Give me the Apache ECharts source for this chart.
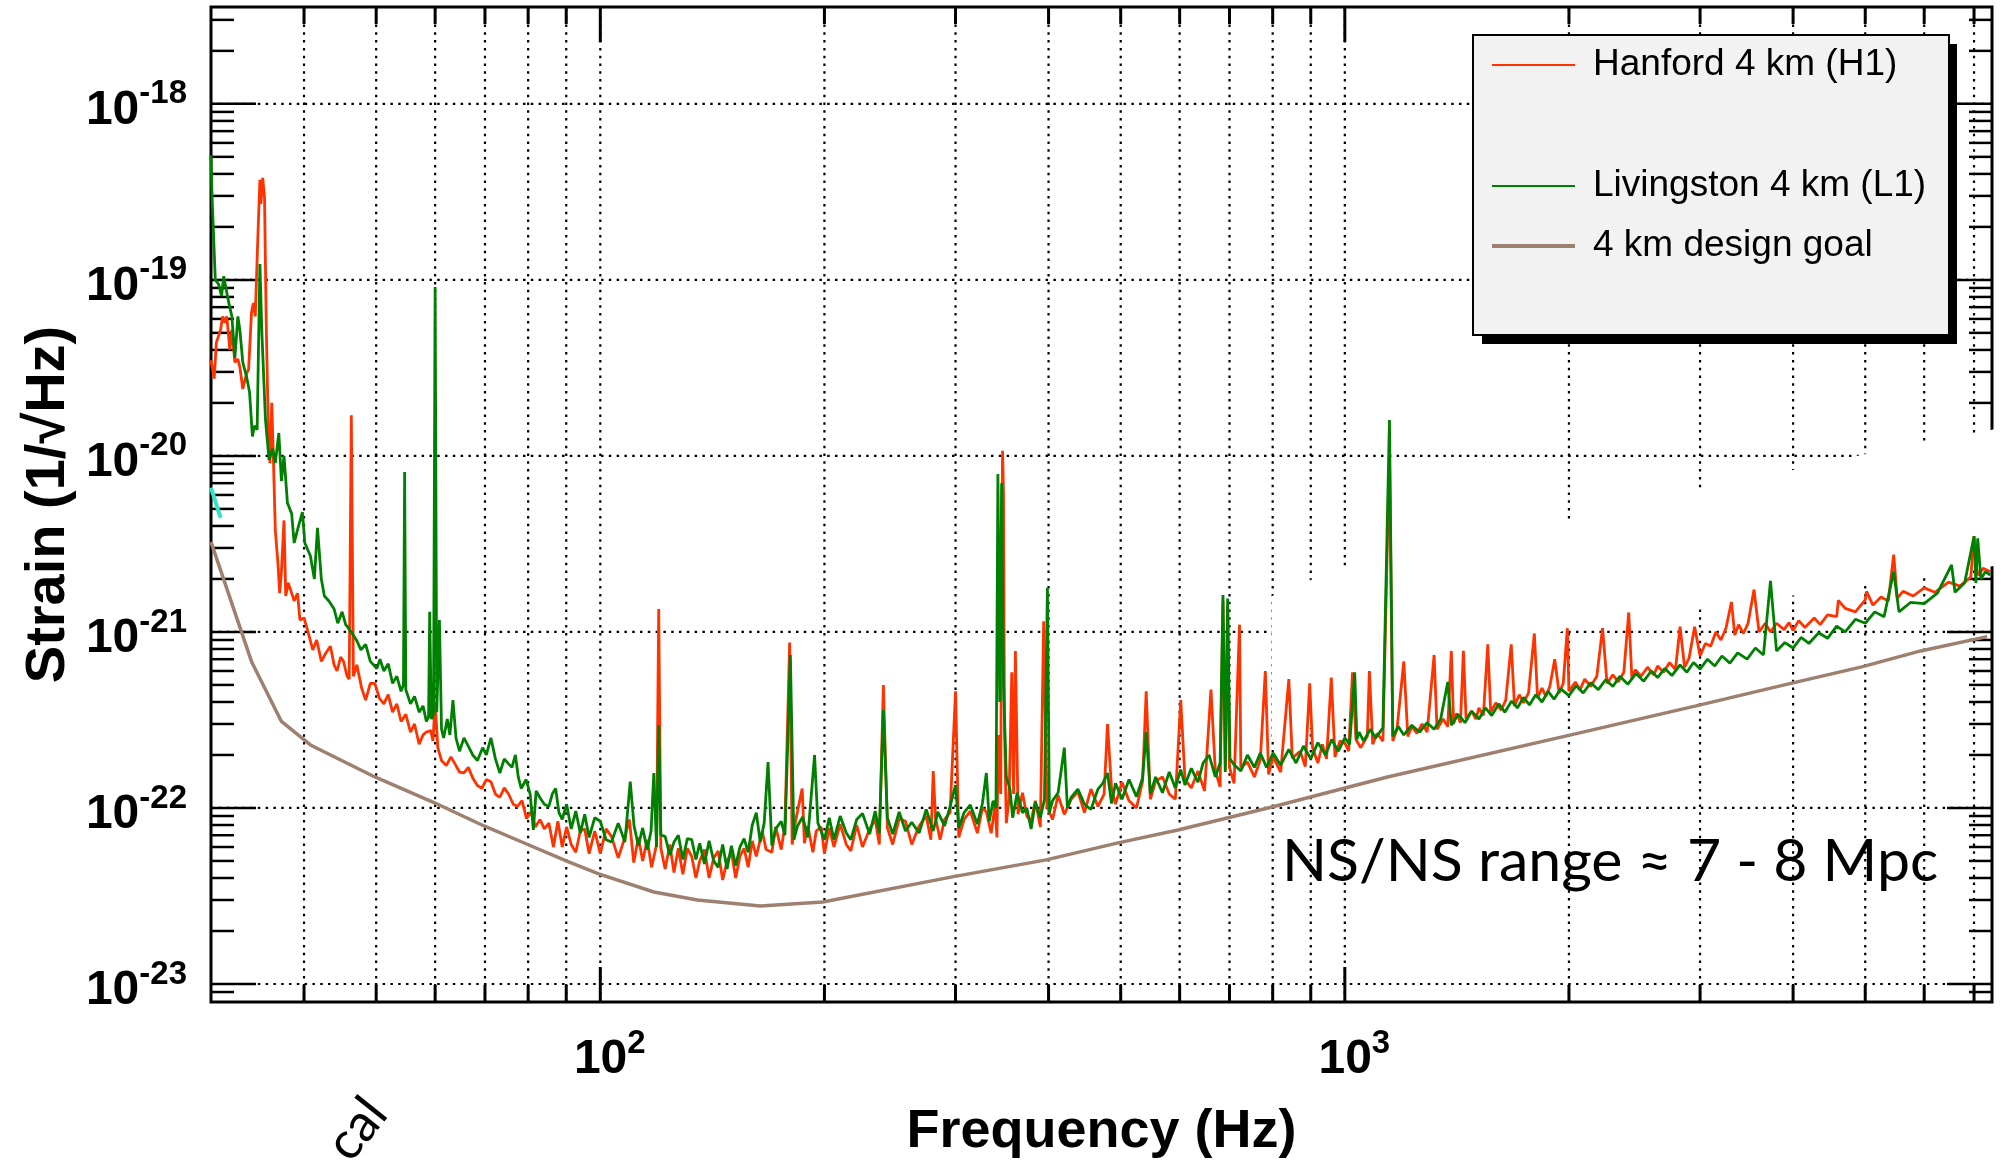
<!DOCTYPE html>
<html>
<head>
<meta charset="utf-8">
<script src="https://cdn.jsdelivr.net/npm/echarts@6/dist/echarts.min.js"></script>
<style>
  html, body { margin: 0; padding: 0; background: #fff; }
  #chart { width: 2001px; height: 1168px; }
</style>
</head>
<body>
<div id="chart"></div>
<script>
// strain is plotted in units of 1e-24 (echarts log axis rounds tiny ticks to 0)
const STRAIN_UNIT = 1e-24;
const UNIT_EXP = -24;

// axis extent
const xMin = 30, xMax = 7400;
const yMin = 7.9e-24, yMax = 3.55e-18;

// gridline / tick positions
const xGridValues = [40, 50, 60, 70, 80, 90, 100, 200, 300, 400, 500, 600, 700, 800, 900, 1000, 2000, 3000, 4000, 5000, 6000, 7000];
const yDecades = [1e-23, 1e-22, 1e-21, 1e-20, 1e-19, 1e-18];
const yMinor = [9e-24,
  2e-23, 3e-23, 4e-23, 5e-23, 6e-23, 7e-23, 8e-23, 9e-23,
  2e-22, 3e-22, 4e-22, 5e-22, 6e-22, 7e-22, 8e-22, 9e-22,
  2e-21, 3e-21, 4e-21, 5e-21, 6e-21, 7e-21, 8e-21, 9e-21,
  2e-20, 3e-20, 4e-20, 5e-20, 6e-20, 7e-20, 8e-20, 9e-20,
  2e-19, 3e-19, 4e-19, 5e-19, 6e-19, 7e-19, 8e-19, 9e-19,
  2e-18, 3e-18];

// Hanford 4 km (H1) [Hz, strain]
const hanford = [
  [30.0,3.5e-20],[30.3,2.75e-20],[30.5,4.4e-20],[30.9,5.2e-20],[31.1,6.2e-20],[31.3,5.7e-20],[31.5,6.2e-20],[31.8,4.0e-20],
  [32.0,5.2e-20],[32.3,3.4e-20],[32.6,3.55e-20],[32.8,3.2e-20],[33.1,2.4e-20],[33.5,2.95e-20],[33.7,3.1e-20],[34.0,6.5e-20],
  [34.2,7.4e-20],[34.4,6.2e-20],[34.7,1.9e-19],[34.9,3.7e-19],[35.0,2.7e-19],[35.2,3.8e-19],[35.4,2.95e-19],[35.6,5.2e-20],
  [35.8,1.6e-20],[36.0,9.1e-21],[36.2,2.0e-20],[36.4,9.1e-21],[36.6,3.8e-21],[36.9,2.45e-21],[37.1,1.66e-21],[37.3,2.2e-21],
  [37.6,4.3e-21],[37.8,1.6e-21],[38.1,1.9e-21],[38.5,1.66e-21],[38.8,1.5e-21],[39.2,1.66e-21],[39.5,1.17e-21],[40.0,1.2e-21],
  [40.5,1.0e-21],[41.1,7.9e-22],[41.6,9.0e-22],[42.2,6.8e-22],[42.8,7.6e-22],[43.4,8.3e-22],[43.9,6.5e-22],[44.3,6.0e-22],
  [44.8,7.2e-22],[45.2,6.8e-22],[45.7,5.6e-22],[46.0,5.4e-22],[46.3,1.7e-20],[46.6,5.6e-22],[47.1,6.5e-22],[47.8,4.8e-22],
  [48.4,4.1e-22],[49.1,5.1e-22],[49.8,5.1e-22],[50.5,4.2e-22],[51.2,3.9e-22],[51.9,4.4e-22],[52.6,3.5e-22],[53.3,3.9e-22],
  [54.0,3.1e-22],[54.8,3.4e-22],[55.6,2.7e-22],[56.3,3.0e-22],[57.1,2.3e-22],[57.8,2.6e-22],[58.4,2.7e-22],[59.2,2.75e-22],
  [59.6,2.4e-22],[60.0,4.0e-22],[60.5,2.2e-22],[61.2,1.86e-22],[62.1,1.74e-22],[63.0,1.95e-22],[63.8,1.78e-22],[64.7,1.6e-22],
  [65.6,1.58e-22],[66.5,1.7e-22],[67.4,1.48e-22],[68.3,1.35e-22],[69.3,1.29e-22],[70.3,1.45e-22],[71.3,1.41e-22],[72.3,1.2e-22],
  [73.3,1.15e-22],[74.3,1.3e-22],[75.3,1.2e-22],[76.4,1.05e-22],[77.4,1.02e-22],[78.5,1.1e-22],[79.6,8.7e-23],[80.7,9.5e-23],
  [81.8,7.8e-23],[83.0,8.6e-23],[84.1,7.6e-23],[85.3,8.2e-23],
  [86.5,6.0e-23],[87.7,8.4e-23],[88.9,6.0e-23],[90.1,7.8e-23],[91.4,6.2e-23],[92.7,5.6e-23],[94.0,7.4e-23],[95.3,7.6e-23],
  [96.6,5.5e-23],[98.3,7.4e-23],[100,5.5e-23],[101.8,7.6e-23],[103.5,6.9e-23],[105.7,5.2e-23],[107.9,6.8e-23],[109.4,8.6e-23],
  [110.9,4.9e-23],[112.5,6.8e-23],[114.0,5.0e-23],[115.6,6.6e-23],[117.2,4.6e-23],[119.0,6.2e-23],[119.8,1.35e-21],[120.6,5.9e-23],
  [122.2,4.5e-23],[124,6.2e-23],[125.6,4.3e-23],[127.3,5.9e-23],[129.1,4.2e-23],[130.9,5.9e-23],[132.7,5.3e-23],[134.4,4.0e-23],
  [136,5.0e-23],[138,5.8e-23],[140,4.0e-23],[142,5.2e-23],[144,5.7e-23],[146,3.9e-23],[148,5.0e-23],[150,5.6e-23],
  [152,4.0e-23],[154,5.3e-23],[156,5.9e-23],[158,4.6e-23],[160,6.5e-23],[162,5.3e-23],[165,7.4e-23],[167,5.8e-23],
  [170,5.6e-23],[172,7.8e-23],[175,5.8e-23],[177,8.0e-23],[179.6,8.7e-22],[181,6.2e-23],[183,8.5e-23],[186.7,1.29e-22],
  [188,6.3e-23],[190,7.9e-23],[193,5.6e-23],[195,7.4e-23],[198,7.8e-23],[200,5.5e-23],[203,7.7e-23],[206,6.0e-23],
  [210,8.1e-23],[214,6.2e-23],[217,5.7e-23],[221,8.0e-23],[225,6.0e-23],[230,7.6e-23],[234,8.6e-23],[237,6.2e-23],
  [240,5.0e-22],[243,7.7e-23],[247,6.2e-23],[252,8.7e-23],[257,8.4e-23],[262,6.2e-23],[268,7.9e-23],[274,9.0e-23],
  [278,6.6e-23],[280,1.62e-22],[282,8.8e-23],[286,6.6e-23],[290,8.6e-23],[295,9.4e-23],[300,4.6e-22],[303,6.8e-23],
  [308,8.6e-23],[314,9.6e-23],[321,7.2e-23],[326,1.0e-22],[330,9.5e-23],[335,7.2e-23],[339,1.04e-22],[341,6.8e-23],
  [342.5,2.6e-22],[345,1.2e-22],[346,3.0e-21],[347,1.07e-20],[348,6.0e-21],[349,3.0e-22],
  [351,8.2e-23],[354,1.12e-22],[357,5.9e-22],[359,1.2e-22],[361,7.8e-22],[364,9.2e-23],[369,1.22e-22],[374,9.0e-23],
  [379,8.4e-23],[384,1.1e-22],[390,7.8e-23],[394,1.15e-21],[398,1.02e-22],[405,8.6e-23],[412,1.18e-22],[420,9.2e-23],
  [429,1.12e-22],[438,1.24e-22],[447,9.4e-23],[456,1.28e-22],[466,1.02e-22],[475,1.2e-22],[480,3.0e-22],[486,1.3e-22],
  [492,1.05e-22],[502,1.4e-22],[513,1.1e-22],[525,1.0e-22],[535,1.42e-22],[541,4.6e-22],[548,1.12e-22],[557,1.42e-22],
  [569,1.5e-22],[581,1.2e-22],[592,1.12e-22],[602,4.1e-22],[610,1.45e-22],[622,1.3e-22],[635,1.62e-22],[648,1.25e-22],
  [661,4.7e-22],[670,1.62e-22],[680,1.32e-22],[686,1.5e-21],[691,1.65e-22],[696,1.4e-21],[700,1.7e-22],[710,1.38e-22],
  [722,1.1e-21],[725,1.7e-22],[740,1.82e-22],[756,1.5e-22],[770,1.88e-22],[782,6.0e-22],[790,1.55e-22],[801,1.95e-22],
  [820,1.6e-22],[841,5.4e-22],[850,1.92e-22],[871,2.1e-22],[885,1.72e-22],[897,5.1e-22],[905,2.2e-22],[920,1.8e-22],
  [933,2.3e-22],[945,1.9e-22],[959,5.5e-22],[970,1.95e-22],[985,2.4e-22],
  [1000,2.34e-22],[1012,2.1e-22],[1024,5.9e-22],[1035,2.45e-22],[1050,2.2e-22],[1072,2.55e-22],[1079,6.0e-22],[1090,2.3e-22],
  [1105,2.65e-22],[1125,2.4e-22],[1148,1.07e-20],[1160,2.4e-22],[1175,2.8e-22],[1200,6.8e-22],[1215,2.55e-22],[1230,2.9e-22],
  [1250,2.65e-22],[1270,3.0e-22],[1290,2.7e-22],[1318,7.4e-22],[1330,2.8e-22],[1355,3.2e-22],[1375,2.9e-22],[1390,7.8e-22],
  [1400,3.0e-22],[1413,3.45e-22],[1430,3.05e-22],[1443,7.8e-22],[1455,3.2e-22],[1480,3.55e-22],[1500,3.2e-22],[1514,3.7e-22],
  [1535,3.35e-22],[1556,8.5e-22],[1570,3.5e-22],[1595,3.95e-22],[1622,3.6e-22],[1645,4.1e-22],[1673,8.5e-22],[1690,3.8e-22],
  [1715,4.4e-22],[1738,3.95e-22],[1765,4.5e-22],[1797,9.8e-22],[1815,4.2e-22],[1840,4.8e-22],[1862,4.3e-22],[1885,4.9e-22],
  [1914,7.0e-22],[1940,4.5e-22],[1965,5.1e-22],[1990,1.05e-21],[2000,4.6e-22],[2040,5.2e-22],[2070,4.7e-22],[2100,5.4e-22],
  [2139,4.9e-22],[2180,5.6e-22],[2219,1.05e-21],[2250,5.1e-22],[2291,5.7e-22],[2330,5.2e-22],[2370,5.9e-22],[2406,1.29e-21],
  [2430,5.4e-22],[2455,6.1e-22],[2500,5.6e-22],[2550,6.3e-22],[2600,5.7e-22],[2631,6.4e-22],[2680,5.9e-22],[2730,6.7e-22],
  [2780,6.1e-22],[2820,1.07e-21],[2860,6.3e-22],[2900,7.1e-22],[2950,1.07e-21],[3000,7.3e-22],[3050,8.6e-22],[3100,8.3e-22],
  [3150,1.0e-21],[3200,9.0e-22],[3250,1.05e-21],[3306,1.48e-21],[3340,9.6e-22],[3380,1.1e-21],[3430,9.8e-22],[3480,1.12e-21],
  [3545,1.74e-21],[3600,1.0e-21],[3670,1.12e-21],[3730,1.0e-21],[3800,1.12e-21],[3890,1.03e-21],[3950,1.13e-21],[4000,1.02e-21],
  [4070,1.16e-21],[4150,1.06e-21],[4270,1.2e-21],[4350,1.1e-21],[4450,1.25e-21],[4577,1.22e-21],[4601,1.51e-21],[4700,1.36e-21],
  [4850,1.3e-21],[5000,1.52e-21],[5020,1.7e-21],[5120,1.42e-21],[5250,1.58e-21],[5370,1.5e-21],[5460,2.75e-21],[5520,1.55e-21],
  [5620,1.7e-21],[5800,1.6e-21],[6000,1.78e-21],[6200,1.68e-21],[6470,1.92e-21],[6700,1.82e-21],[6930,2.05e-21],[7000,3.5e-21],
  [7050,2.3e-21],[7100,2.1e-21],[7200,2.3e-21],[7360,2.2e-21]
];

// Livingston 4 km (L1) [Hz, strain]
const livingston = [
  [30.0,5.1e-19],[30.1,2.95e-19],[30.4,1.0e-19],[30.7,9.5e-20],[31.0,8.1e-20],[31.2,1.05e-19],[31.3,1.07e-19],[31.7,7.4e-20],
  [32.0,6.2e-20],[32.3,3.6e-20],[32.6,6.2e-20],[32.8,5.2e-20],[33.1,3.4e-20],[33.5,2.8e-20],[33.8,2.3e-20],[34.1,1.29e-20],
  [34.3,1.48e-20],[34.6,1.41e-20],[34.9,1.23e-19],[35.1,5.2e-20],[35.5,1.62e-20],[35.9,9.5e-21],[36.3,1.1e-20],[36.6,9.1e-21],
  [37.0,1.35e-20],[37.3,7.2e-21],[37.6,1.0e-20],[38.0,5.4e-21],[38.5,4.7e-21],[38.8,3.2e-21],[39.2,3.8e-21],[39.8,4.8e-21],
  [40.1,3.2e-21],[40.8,2.7e-21],[41.3,2.0e-21],[41.7,3.9e-21],[42.2,2.0e-21],[42.6,1.6e-21],[43.2,1.5e-21],[43.9,1.35e-21],
  [44.4,1.12e-21],[45.0,1.3e-21],[45.5,1.1e-21],[46.3,1.0e-21],[47.1,8.9e-22],[47.7,7.9e-22],[48.4,8.5e-22],[49.1,6.8e-22],
  [50.1,6.2e-22],[50.6,7.0e-22],[51.2,6.0e-22],[51.9,6.6e-22],[52.6,5.1e-22],[53.3,5.6e-22],[54.0,4.6e-22],[54.4,5.0e-22],
  [54.6,8.1e-21],[54.8,4.7e-22],[55.6,3.9e-22],[56.3,4.3e-22],[57.1,3.5e-22],[57.8,3.8e-22],[58.4,3.1e-22],[58.8,3.3e-22],
  [59.0,1.3e-21],[59.3,3.2e-22],[59.7,3.4e-22],[60.0,9.1e-20],[60.3,3.5e-22],[60.8,1.17e-21],[61.2,2.8e-22],[61.6,2.5e-22],
  [62.3,3.2e-22],[62.8,2.6e-22],[63.4,4.1e-22],[64.0,2.5e-22],[64.7,2.1e-22],[65.6,2.5e-22],[66.5,2.24e-22],[67.4,2.0e-22],
  [68.4,1.86e-22],[69.5,2.2e-22],[70.3,2.0e-22],[71.3,2.5e-22],[72.3,1.9e-22],[73.3,1.58e-22],[74.3,1.9e-22],[75.3,1.78e-22],
  [76.1,1.7e-22],[76.9,2.0e-22],[77.6,1.5e-22],[78.3,1.29e-22],[79.5,1.45e-22],[80.5,1.2e-22],[81.3,7.5e-23],[82.0,1.25e-22],
  [82.9,1.15e-22],[84.1,1.05e-22],[85.3,1.02e-22],
  [86.2,1.2e-22],[87.1,1.29e-22],[88.0,9.4e-23],[88.9,8.6e-23],[90.1,1.05e-22],[91.4,7.6e-23],[92.7,9.6e-23],[94.0,7.2e-23],
  [95.3,9.2e-23],[96.6,6.8e-23],[98.3,8.8e-23],[100,8.4e-23],[101.8,6.6e-23],[103.5,6.4e-23],[105.7,8.2e-23],[107.9,6.4e-23],
  [109.7,1.41e-22],[111,7.9e-23],[112.5,6.1e-23],[114,7.7e-23],[115.6,5.8e-23],[117,7.4e-23],[118,1.58e-22],[119,6.0e-23],
  [119.8,2.95e-22],[120.6,7.0e-23],[122.2,6.9e-23],[124,5.4e-23],[125.6,6.4e-23],[127.3,7.0e-23],[129.1,5.1e-23],[130.9,6.7e-23],
  [132.7,6.6e-23],[134.4,5.1e-23],[136,6.3e-23],[138,4.8e-23],[140,6.5e-23],[142,5.0e-23],[144,4.6e-23],[146,6.2e-23],
  [148,4.5e-23],[150,6.1e-23],[152,4.7e-23],[154,6.0e-23],[156,6.7e-23],[158,5.6e-23],[160,8.0e-23],[162,9.4e-23],
  [164,6.4e-23],[166,8.2e-23],[168,1.82e-22],[170,6.1e-23],[172,7.6e-23],[175,8.4e-23],[177,7.0e-23],[180,7.4e-22],
  [182,6.6e-23],[184,7.9e-23],[187,8.9e-23],[190,6.8e-23],[194,2.0e-22],[196,8.2e-23],[200,6.6e-23],[203,8.8e-23],
  [206,6.6e-23],[210,9.0e-23],[214,7.2e-23],[217,6.6e-23],[221,8.6e-23],[225,9.3e-23],[230,7.1e-23],[234,9.6e-23],
  [237,7.2e-23],[240,3.6e-22],[243,8.8e-23],[247,7.1e-23],[252,9.5e-23],[257,7.4e-23],[262,8.3e-23],[268,7.2e-23],
  [274,9.8e-23],[280,7.4e-23],[284,9.5e-23],[290,7.9e-23],[295,1.02e-22],[300,1.35e-22],[303,7.7e-23],[308,9.4e-23],
  [314,1.04e-22],[321,8.1e-23],[326,1.06e-22],[330,1.58e-22],[333,8.4e-23],[337,1.1e-22],[340,1.0e-22],
  [342,7.9e-21],[344,4.0e-22],[346,7.0e-21],[348,5.0e-22],
  [351,1.51e-22],[355,1.28e-22],[358,8.8e-23],[363,1.22e-22],[369,9.4e-23],[374,1.0e-22],[379,7.6e-23],[384,1.08e-22],
  [390,8.8e-23],[395,1.12e-22],[398.6,1.78e-21],[401,9.4e-23],[405,1.1e-22],[412,1.22e-22],[420,2.2e-22],[424,1.0e-22],
  [429,1.15e-22],[438,1.28e-22],[447,1.05e-22],[456,9.8e-23],[466,1.28e-22],[473,1.38e-22],[480,1.58e-22],[486,1.06e-22],
  [492,1.38e-22],[502,1.12e-22],[513,1.45e-22],[525,1.16e-22],[535,1.48e-22],[541,2.7e-22],[548,1.2e-22],[557,1.5e-22],
  [569,1.22e-22],[581,1.6e-22],[592,1.3e-22],[602,1.65e-22],[610,1.35e-22],[622,1.68e-22],[635,1.4e-22],[645,1.8e-22],
  [657,2.0e-22],[670,1.5e-22],[680,1.8e-22],[686,1.62e-21],[691,1.6e-22],[696,1.55e-21],[701,1.9e-22],[710,1.76e-22],
  [725,1.62e-22],[740,2.0e-22],[756,1.7e-22],[770,2.05e-22],[785,1.7e-22],[801,2.05e-22],[820,1.75e-22],[841,2.15e-22],
  [860,1.8e-22],[880,2.25e-22],[900,1.9e-22],[920,2.35e-22],[942,2.0e-22],[960,2.45e-22],[980,2.1e-22],
  [1000,2.5e-22],[1015,2.3e-22],[1031,5.9e-22],[1038,2.45e-22],[1045,2.7e-22],[1060,2.4e-22],[1082,2.8e-22],[1100,2.5e-22],
  [1125,2.85e-22],[1148,1.6e-20],[1160,2.55e-22],[1180,2.9e-22],[1200,2.6e-22],[1230,2.95e-22],[1260,2.7e-22],[1290,3.05e-22],
  [1318,2.8e-22],[1345,3.2e-22],[1375,5.2e-22],[1390,2.95e-22],[1420,3.4e-22],[1450,3.05e-22],[1480,3.55e-22],[1514,3.2e-22],
  [1545,3.7e-22],[1575,3.35e-22],[1610,3.9e-22],[1640,3.5e-22],[1675,4.05e-22],[1705,3.7e-22],[1738,4.25e-22],[1770,3.85e-22],
  [1805,4.4e-22],[1840,4.0e-22],[1875,4.6e-22],[1910,4.15e-22],[1950,4.75e-22],[2000,4.35e-22],[2045,4.95e-22],[2090,4.5e-22],
  [2140,5.15e-22],[2190,4.7e-22],[2240,5.35e-22],[2291,4.9e-22],[2340,5.6e-22],[2400,5.05e-22],[2460,5.8e-22],[2520,5.25e-22],
  [2580,6.0e-22],[2631,5.5e-22],[2690,6.2e-22],[2750,5.65e-22],[2820,6.5e-22],[2880,5.9e-22],[2940,6.7e-22],[3000,6.15e-22],
  [3070,7.0e-22],[3140,6.4e-22],[3210,7.3e-22],[3290,6.65e-22],[3370,7.6e-22],[3470,7.0e-22],[3560,8.1e-22],[3650,7.4e-22],
  [3730,1.95e-21],[3800,7.8e-22],[3900,8.7e-22],[4000,8.1e-22],[4100,9.3e-22],[4200,8.6e-22],[4330,9.9e-22],[4450,9.2e-22],
  [4577,1.08e-21],[4700,1.0e-21],[4850,1.18e-21],[5000,1.12e-21],[5150,1.3e-21],[5300,1.22e-21],[5460,2.2e-21],[5550,1.3e-21],
  [5750,1.47e-21],[6000,1.45e-21],[6250,1.66e-21],[6530,2.4e-21],[6600,1.68e-21],[6800,1.9e-21],[7000,3.5e-21],[7040,1.9e-21],
  [7080,3.4e-21],[7150,2.0e-21],[7250,2.2e-21],[7360,2.1e-21]
];

// 4 km design goal
const designGoal = [
  [30,3.25e-21],[34.0,6.8e-22],[37.3,3.1e-22],[40.8,2.28e-22],[49.8,1.5e-22],[59.9,1.07e-22],[69.8,7.9e-23],[79.6,6.24e-23],
  [90,5.0e-23],[99.5,4.22e-23],[118,3.33e-23],[135,3.0e-23],[164,2.77e-23],[199,2.92e-23],[297,4.06e-23],[397,5.07e-23],
  [496,6.33e-23],[597,7.5e-23],[796,1.01e-22],[1141,1.5e-22],[1979,2.56e-22],[2963,3.8e-22],[3946,5.07e-22],[4946,6.33e-22],
  [5935,7.8e-22],[7290,9.4e-22]
];

// short cyan fragment at the left edge
const calTrace = [[30,6.6e-21],[30.9,4.44e-21]];

const FONT = 'Liberation Sans, Arial, Helvetica, sans-serif';

// convert [Hz, strain] to plotted units
function toPlot(arr) {
  return arr.map(p => [p[0], p[1] / STRAIN_UNIT]);
}

function isDecade(v) {
  const l = Math.log10(v);
  return Math.abs(l - Math.round(l)) < 1e-6;
}

const pyMin = yMin / STRAIN_UNIT, pyMax = yMax / STRAIN_UNIT;

function renderXGrid(params, api) {
  const v = api.value(0);
  const b = api.coord([v, pyMin]);
  const t = api.coord([v, pyMax]);
  const len = isDecade(v) ? 35 : 17;
  return {
    type: 'group',
    children: [
      {type: 'line', shape: {x1: b[0], y1: b[1], x2: t[0], y2: t[1]},
        style: {stroke: '#000', lineWidth: 2.2, lineDash: [2.5, 5.3]}},
      {type: 'line', shape: {x1: b[0], y1: b[1], x2: b[0], y2: b[1] - len},
        style: {stroke: '#000', lineWidth: 3}},
      {type: 'line', shape: {x1: t[0], y1: t[1], x2: t[0], y2: t[1] + len},
        style: {stroke: '#000', lineWidth: 3}}
    ]
  };
}

function renderYGrid(params, api) {
  const v = api.value(1);
  const l = api.coord([xMin, v]);
  const r = api.coord([xMax, v]);
  const major = isDecade(v);
  const len = major ? 45 : 23;
  const kids = [
    {type: 'line', shape: {x1: l[0], y1: l[1], x2: l[0] + len, y2: l[1]},
      style: {stroke: '#000', lineWidth: 2.5}},
    {type: 'line', shape: {x1: r[0], y1: r[1], x2: r[0] - len, y2: r[1]},
      style: {stroke: '#000', lineWidth: 2.5}}
  ];
  if (major) {
    kids.unshift({type: 'line', shape: {x1: l[0], y1: l[1], x2: r[0], y2: r[1]},
      style: {stroke: '#000', lineWidth: 2.2, lineDash: [2.5, 5.3]}});
  }
  return {type: 'group', children: kids};
}

const labelRich = {
  sp: {width: 19},
  b: {fontFamily: FONT, fontWeight: 'bold', fontSize: 48, color: '#000', verticalAlign: 'bottom', lineHeight: 50},
  s: {fontFamily: FONT, fontWeight: 'bold', fontSize: 33, color: '#000', verticalAlign: 'bottom', lineHeight: 32, padding: [0, 0, 24, 0]}
};

const chart = echarts.init(document.getElementById('chart'));

const option = {
  animation: false,
  backgroundColor: '#fff',
  grid: {
    left: 211, right: 9, top: 7, bottom: 166,
    containLabel: false, outerBoundsMode: 'none',
    show: true, borderColor: '#000', borderWidth: 3, backgroundColor: 'transparent'
  },
  xAxis: {
    type: 'log', logBase: 10, min: xMin, max: xMax,
    name: 'Frequency (Hz)', nameLocation: 'middle', nameGap: 103, nameMoveOverlap: false,
    nameTextStyle: {fontFamily: FONT, fontWeight: 'bold', fontSize: 54, color: '#000'},
    axisLine: {show: false}, axisTick: {show: false}, splitLine: {show: false},
    axisLabel: {
      margin: 32,
      formatter: v => isDecade(v) ? '{sp|}{b|10}{s|' + Math.round(Math.log10(v)) + '}' : '',
      rich: labelRich
    }
  },
  yAxis: {
    type: 'log', logBase: 10, min: pyMin, max: pyMax,
    name: 'Strain (1/\u221AHz)', nameLocation: 'middle', nameGap: 134, nameRotate: 90, nameMoveOverlap: false,
    nameTextStyle: {fontFamily: FONT, fontWeight: 'bold', fontSize: 56, color: '#000'},
    axisLine: {show: false}, axisTick: {show: false}, splitLine: {show: false},
    axisLabel: {
      margin: 24, padding: [12, 0, 0, 0],
      formatter: v => isDecade(v) ? '{b|10}{s|' + (Math.round(Math.log10(v)) + UNIT_EXP) + '}' : '',
      rich: labelRich
    }
  },
  series: [
    {
      type: 'custom', name: 'xgrid', z: 1, silent: true,
      renderItem: renderXGrid, encode: {x: 0, y: 1},
      data: xGridValues.map(v => [v, pyMin])
    },
    {
      type: 'custom', name: 'ygrid', z: 1, silent: true,
      renderItem: renderYGrid, encode: {x: 0, y: 1},
      data: toPlot(yDecades.concat(yMinor).map(v => [xMin, v]))
    },
    {
      type: 'line', name: 'Hanford 4 km (H1)', data: toPlot(hanford), z: 3,
      symbol: 'none', lineStyle: {color: '#ff3300', width: 2.8}
    },
    {
      type: 'line', name: 'Livingston 4 km (L1)', data: toPlot(livingston), z: 4,
      symbol: 'none', lineStyle: {color: '#008000', width: 2.8}
    },
    {
      type: 'line', name: '4 km design goal', data: toPlot(designGoal), z: 5,
      symbol: 'none', lineStyle: {color: '#9e8070', width: 3.5}
    },
    {
      type: 'line', name: 'cal', data: toPlot(calTrace), z: 5,
      symbol: 'none', lineStyle: {color: '#33e3c8', width: 4}
    }
  ],
  graphic: [
    // white cover above the high-frequency traces (hides gridlines there, as in the original slide)
    {type: 'polygon', z: 2, silent: true,
      shape: {points: [[1272, 596], [1345, 566], [1571, 519], [1793, 470], [1875, 452], [2001, 428],
        [2001, 565], [1571, 628], [1539, 640], [1400, 700], [1272, 740]]},
      style: {fill: '#fff'}},
    {type: 'rect', z: 10, shape: {x: 1482, y: 44, width: 475, height: 300}, style: {fill: '#000'}},
    {type: 'rect', z: 11, shape: {x: 1473, y: 35, width: 476, height: 300}, style: {fill: '#f2f2f2', stroke: '#000', lineWidth: 2}},
    {type: 'line', z: 12, shape: {x1: 1492, y1: 65, x2: 1575, y2: 65}, style: {stroke: '#ff3300', lineWidth: 2}},
    {type: 'line', z: 12, shape: {x1: 1492, y1: 186, x2: 1575, y2: 186}, style: {stroke: '#008000', lineWidth: 2}},
    {type: 'line', z: 12, shape: {x1: 1492, y1: 246, x2: 1575, y2: 246}, style: {stroke: '#9e8070', lineWidth: 4}},
    {type: 'text', z: 12, x: 1593, y: 65, style: {text: 'Hanford 4 km (H1)', font: '37px ' + FONT, fill: '#000', verticalAlign: 'middle'}},
    {type: 'text', z: 12, x: 1593, y: 186, style: {text: 'Livingston 4 km (L1)', font: '37px ' + FONT, fill: '#000', verticalAlign: 'middle'}},
    {type: 'text', z: 12, x: 1593, y: 246, style: {text: '4 km design goal', font: '37px ' + FONT, fill: '#000', verticalAlign: 'middle'}},
    {type: 'text', z: 12, x: 1282, y: 862, style: {text: 'NS/NS range \u2248 7 - 8 Mpc', font: '59px Lato, "Open Sans", sans-serif', fill: '#000', verticalAlign: 'middle'}},
    {type: 'text', z: 12, x: 357, y: 1129, rotation: 0.9, style: {text: 'cal', font: '52px Lato, "Open Sans", sans-serif', fill: '#000', align: 'center', verticalAlign: 'middle'}}
  ]
};

chart.setOption(option);
</script>
</body>
</html>
